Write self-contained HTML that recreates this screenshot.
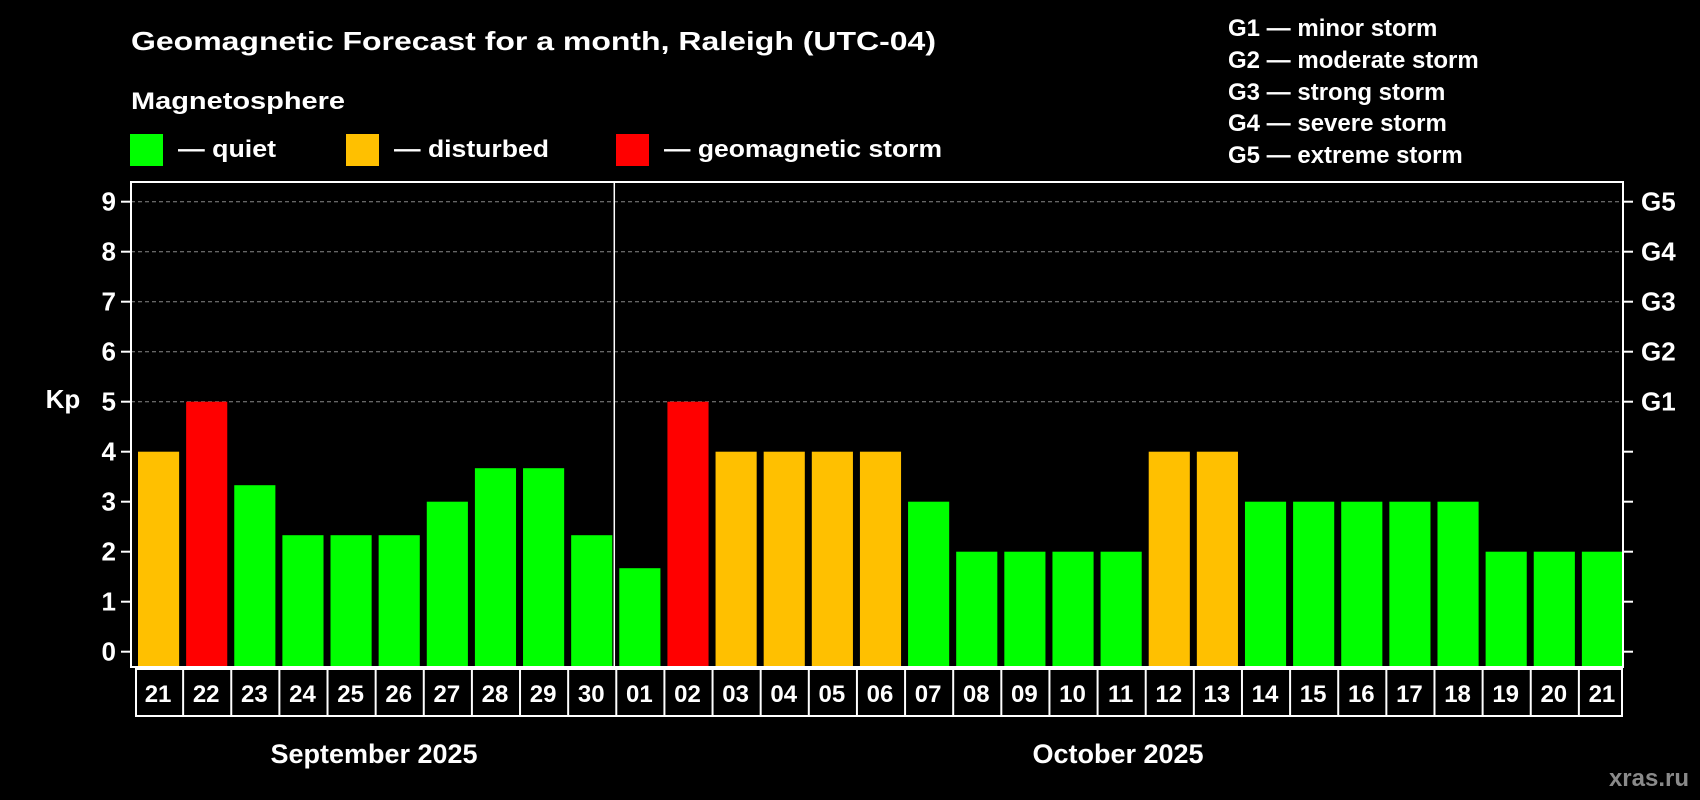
<!DOCTYPE html>
<html><head><meta charset="utf-8"><style>
html,body{margin:0;padding:0;background:#000;}
svg{display:block;font-family:"Liberation Sans",Arial,sans-serif;font-weight:bold;}
</style></head><body>
<svg id="chart" width="1700" height="800" viewBox="0 0 1700 800">
<rect x="0" y="0" width="1700" height="800" fill="#000"/>
<text x="131" y="50" font-size="26" fill="#fff" textLength="805" lengthAdjust="spacingAndGlyphs">Geomagnetic Forecast for a month, Raleigh (UTC-04)</text>
<text x="131" y="109" font-size="24" fill="#fff" textLength="214" lengthAdjust="spacingAndGlyphs">Magnetosphere</text>
<g>
<rect x="130" y="134" width="33" height="32" fill="#00ff00"/>
<text x="178" y="157" font-size="24" fill="#fff" textLength="98" lengthAdjust="spacingAndGlyphs">— quiet</text></g>
<g>
<rect x="346" y="134" width="33" height="32" fill="#ffc000"/>
<text x="394" y="157" font-size="24" fill="#fff" textLength="155" lengthAdjust="spacingAndGlyphs">— disturbed</text></g>
<g>
<rect x="616" y="134" width="33" height="32" fill="#ff0000"/>
<text x="664" y="157" font-size="24" fill="#fff" textLength="278" lengthAdjust="spacingAndGlyphs">— geomagnetic storm</text></g>
<g font-size="24" fill="#fff">
<text x="1228" y="36">G1 — minor storm</text>
<text x="1228" y="68">G2 — moderate storm</text>
<text x="1228" y="100">G3 — strong storm</text>
<text x="1228" y="131">G4 — severe storm</text>
<text x="1228" y="163">G5 — extreme storm</text>
</g>
<text x="63" y="408" font-size="26" fill="#fff" text-anchor="middle">Kp</text>
<g id="grid"></g>
<g id="bars"></g>
<g id="axes"></g>
<text x="374" y="763" font-size="27" fill="#fff" text-anchor="middle">September 2025</text>
<text x="1118" y="763" font-size="27" fill="#fff" text-anchor="middle">October 2025</text>
<text x="1689" y="786" font-size="24" fill="#8a8a8a" text-anchor="end">xras.ru</text>
</svg>
<script>
const days = ["21","22","23","24","25","26","27","28","29","30","01","02","03","04","05","06","07","08","09","10","11","12","13","14","15","16","17","18","19","20","21"];
const kpValues = [4,5,3.33,2.33,2.33,2.33,3,3.67,3.67,2.33,1.67,5,4,4,4,4,3,2,2,2,2,4,4,3,3,3,3,3,2,2,2];
const yTicks = [0,1,2,3,4,5,6,7,8,9];
const gLabels = [[5,"G1"],[6,"G2"],[7,"G3"],[8,"G4"],[9,"G5"]];
const monthStartIndex = 10;

const NS = "http://www.w3.org/2000/svg";
const L = 131, R = 1623, T = 182, B = 667, Y0 = 651.7, UNIT = 50;
const slot = (R - L) / days.length;
const xs = i => L + i * slot;
const ys = v => Y0 - v * UNIT;
function mk(tag, attrs, parent) { const e = document.createElementNS(NS, tag); for (const k in attrs) e.setAttribute(k, attrs[k]); parent.appendChild(e); return e; }
const grid = document.getElementById("grid"), bars = document.getElementById("bars"), axes = document.getElementById("axes");

gLabels.forEach(([v]) => {
  const l = mk("line", {x1: L, x2: R, y1: ys(v), y2: ys(v), stroke: "#888", "stroke-width": 1, "stroke-dasharray": "4,3"}, grid);
  
  
});

function color(v) { return v >= 5 ? "#ff0000" : (v >= 4 ? "#ffc000" : "#00ff00"); }
kpValues.forEach((v, i) => {
  const r = mk("rect", {x: xs(i) + 7, y: ys(v), width: slot - 7, height: B - ys(v), fill: color(v)}, bars);
  
  
});

// frame
const f = mk("rect", {x: L, y: T, width: R - L, height: B - T, fill: "none", stroke: "#fff", "stroke-width": 2}, axes);


const dv = mk("line", {x1: xs(monthStartIndex) + 2, x2: xs(monthStartIndex) + 2, y1: T, y2: B, stroke: "#fff", "stroke-width": 1.5}, axes);



yTicks.forEach(v => {
  const t1 = mk("line", {x1: L - 10, x2: L, y1: ys(v), y2: ys(v), stroke: "#fff", "stroke-width": 2}, axes);
  
  
  const t2 = mk("line", {x1: R, x2: R + 10, y1: ys(v), y2: ys(v), stroke: "#fff", "stroke-width": 2}, axes);
  
  
  const tx = mk("text", {x: 116, y: ys(v) + 9, "font-size": 26, fill: "#fff", "text-anchor": "end"}, axes);
  tx.textContent = v;
  
  
});
gLabels.forEach(([v, g]) => {
  const tx = mk("text", {x: 1641, y: ys(v) + 9, "font-size": 26, fill: "#fff"}, axes);
  tx.textContent = g;
  
  
});

// date row
const row = mk("rect", {x: L + 5, y: 669, width: R - L - 6, height: 47, fill: "none", stroke: "#fff", "stroke-width": 2}, axes);


days.forEach((d, i) => {
  if (i > 0) {
    const s = mk("line", {x1: xs(i) + 4, x2: xs(i) + 4, y1: 669, y2: 716, stroke: "#fff", "stroke-width": 2}, axes);
    
    
  }
  const tx = mk("text", {x: xs(i) + slot / 2 + 3, y: 702, "font-size": 24, fill: "#fff", "text-anchor": "middle"}, axes);
  tx.textContent = d;
  
  
});
</script>
</body></html>
